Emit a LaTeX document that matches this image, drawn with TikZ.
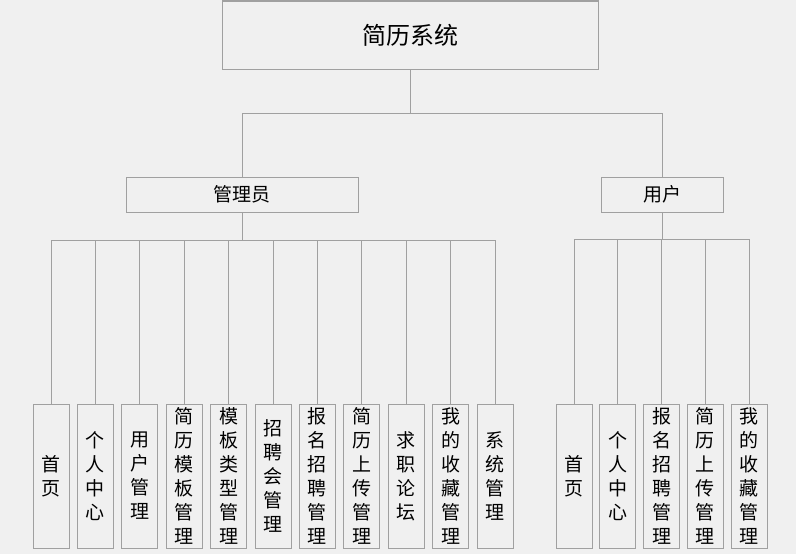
\documentclass[tikz,border=0pt]{standalone}
\usepackage{fontspec}
\setmainfont{Noto Sans CJK SC}
\usetikzlibrary{positioning}

\definecolor{bggray}{HTML}{F0F0F0}
\definecolor{linegray}{HTML}{A0A0A0}

\tikzset{
    box/.style={draw=linegray, line width=1pt, inner sep=0pt},
    leafbox/.style={box, minimum width=36pt, minimum height=144pt, align=center,
        font=\fontsize{19}{24}\selectfont},
    link/.style={draw=linegray, line width=1pt},
}

\begin{document}
\begin{tikzpicture}[x=1pt,y=-1pt]

    % DRAW BACKGROUND
    \fill[bggray] (0,0) rectangle (796,554);
    \useasboundingbox (0,0) rectangle (796,554);

    % DRAW TOP LEVELS
    \node[box, minimum width=376pt, minimum height=68pt, font=\fontsize{24}{28}\selectfont] (root) at (410,35) {简历系统};
    \node[box, minimum width=232pt, minimum height=35pt, font=\fontsize{19}{22}\selectfont] (admin) at (242,194.5) {管理员};
    \node[box, minimum width=122pt, minimum height=35pt, font=\fontsize{19}{22}\selectfont] (user) at (662,194.5) {用户};

    \draw[link] (root.south) -- ++(0,44) -| (admin.north);
    \draw[link] (root.south) -- ++(0,44) -| (user.north);

    % DRAW ADMIN LEAVES
    \foreach \txt [count=\i] in {{首\\页}, {个\\人\\中\\心}, {用\\户\\管\\理}, {简\\历\\模\\板\\管\\理},
        {模\\板\\类\\型\\管\\理}, {招\\聘\\会\\管\\理}, {报\\名\\招\\聘\\管\\理}, {简\\历\\上\\传\\管\\理},
        {求\\职\\论\\坛}, {我\\的\\收\\藏\\管\\理}, {系\\统\\管\\理}}
        \node[leafbox] (m\i) at ({51+44.4*(\i-1)},476) {\txt};

    \foreach \i in {1,...,11}
        \draw[link] (admin.south) -- ++(0,28) -| (m\i.north);

    % DRAW USER LEAVES
    \foreach \txt [count=\i] in {{首\\页}, {个\\人\\中\\心}, {报\\名\\招\\聘\\管\\理},
        {简\\历\\上\\传\\管\\理}, {我\\的\\收\\藏\\管\\理}}
        \node[leafbox] (u\i) at ({574+43.75*(\i-1)},476) {\txt};

    \foreach \i in {1,...,5}
        \draw[link] (user.south) -- ++(0,27) -| (u\i.north);

\end{tikzpicture}
\end{document}
